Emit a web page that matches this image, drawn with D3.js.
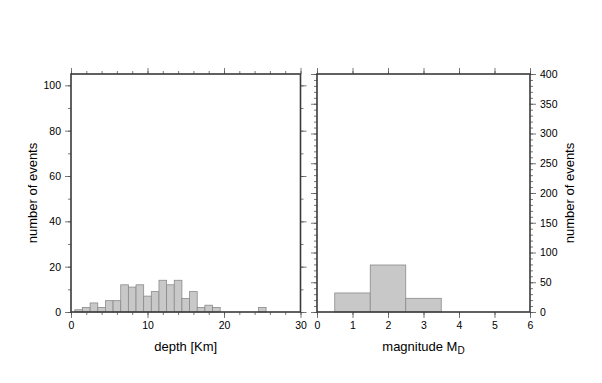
<!DOCTYPE html>
<html>
<head>
<meta charset="utf-8">
<script src="https://cdn.jsdelivr.net/npm/d3@7"></script>
<style>
  body { margin: 0; background: #fff; }
  svg text { font-family: "Liberation Sans", Arial, sans-serif; fill: #000; }
</style>
</head>
<body>
<div id="chart"></div>
<script>
// depth histogram, 1 km bins centred on whole km
var depthKm = d3.range(0, 30);
var depthCounts = [0, 1, 2, 4, 2, 5, 5, 12, 11, 12, 7, 9, 14, 12, 14, 6, 9, 2, 3, 2,
                   0, 0, 0, 0, 0, 2, 0, 0, 0, 0];
// magnitude histogram, bins centred on whole units
var magBins = [1, 2, 3];
var magCounts = [32, 79, 23];

var depthTicks = [0, 10, 20, 30];
var countTicksL = [0, 20, 40, 60, 80, 100];
var magTicks = [0, 1, 2, 3, 4, 5, 6];
var countTicksR = [0, 50, 100, 150, 200, 250, 300, 350, 400];

var W = 602, H = 383,
    yTop = 74, yBot = 312,
    left1 = 71, right1 = 300.5,
    left2 = 317, right2 = 530,
    frameColor = "#3a3a3a",
    barFill = "#c8c8c8", barStroke = "#8a8a8a";

var svg = d3.select("#chart").append("svg")
    .attr("width", W).attr("height", H);

function ticks(g, axis, major, minor, labels, len) {
  g.call(axis.tickValues(minor).tickSize(len / 2).tickFormat(""));
  g.select(".domain").remove();
  var gm = g.append("g");
  gm.call(axis.tickValues(major).tickSize(len).tickFormat(labels ? d3.format("d") : ""));
  gm.select(".domain").remove();
  g.selectAll("line").attr("stroke", "#555").attr("stroke-width", 0.8);
  g.selectAll("text").attr("font-size", 10.5).attr("fill", "#000");
}

// ---- left panel: depth
var x1 = d3.scaleLinear().domain([0, 30]).range([left1, right1]);
var y1 = d3.scaleLinear().domain([0, 105]).range([yBot, yTop]);

svg.append("g").selectAll("rect")
  .data(depthKm.filter(function (d, i) { return depthCounts[i] > 0; }))
  .enter().append("rect")
    .attr("x", function (d) { return x1(Math.max(0, d - 0.5)); })
    .attr("width", function (d) { return x1(d + 0.5) - x1(Math.max(0, d - 0.5)); })
    .attr("y", function (d) { return y1(depthCounts[d]); })
    .attr("height", function (d) { return yBot - y1(depthCounts[d]); })
    .attr("fill", barFill).attr("stroke", barStroke).attr("stroke-width", 0.8);

ticks(svg.append("g").attr("transform", "translate(0," + yBot + ")"),
  d3.axisBottom(x1).tickPadding(4), depthTicks, d3.range(0, 31, 2), true, 6);
ticks(svg.append("g").attr("transform", "translate(0," + yTop + ")"),
  d3.axisTop(x1), depthTicks, d3.range(0, 31, 2), false, 6);
ticks(svg.append("g").attr("transform", "translate(" + left1 + ",0)"),
  d3.axisLeft(y1).tickPadding(4), countTicksL, d3.range(0, 101, 10), true, 6);
ticks(svg.append("g").attr("transform", "translate(" + right1 + ",0)"),
  d3.axisRight(y1), countTicksL, d3.range(0, 101, 10), false, 6);

svg.append("rect")
  .attr("x", left1).attr("y", yTop)
  .attr("width", right1 - left1).attr("height", yBot - yTop)
  .attr("fill", "none").attr("stroke", frameColor).attr("stroke-width", 1.6);

svg.append("text")
  .attr("x", (left1 + right1) / 2).attr("y", 351)
  .attr("text-anchor", "middle").attr("font-size", 13)
  .text("depth [Km]");
svg.append("text")
  .attr("transform", "translate(37," + (yTop + yBot) / 2 + ") rotate(-90)")
  .attr("text-anchor", "middle").attr("font-size", 13)
  .text("number of events");

// ---- right panel: magnitude
var x2 = d3.scaleLinear().domain([0, 6]).range([left2, right2]);
var y2 = d3.scaleLinear().domain([0, 400]).range([yBot, yTop]);

svg.append("g").selectAll("rect")
  .data(magBins)
  .enter().append("rect")
    .attr("x", function (d) { return x2(d - 0.5); })
    .attr("width", function (d) { return x2(d + 0.5) - x2(d - 0.5); })
    .attr("y", function (d, i) { return y2(magCounts[i]); })
    .attr("height", function (d, i) { return yBot - y2(magCounts[i]); })
    .attr("fill", barFill).attr("stroke", barStroke).attr("stroke-width", 0.8);

ticks(svg.append("g").attr("transform", "translate(0," + yBot + ")"),
  d3.axisBottom(x2).tickPadding(4), magTicks, magTicks, true, 6);
ticks(svg.append("g").attr("transform", "translate(0," + yTop + ")"),
  d3.axisTop(x2), magTicks, magTicks, false, 6);
ticks(svg.append("g").attr("transform", "translate(" + left2 + ",0)"),
  d3.axisLeft(y2), countTicksR, d3.range(0, 401, 10), false, 6);
ticks(svg.append("g").attr("transform", "translate(" + right2 + ",0)"),
  d3.axisRight(y2).tickPadding(4), countTicksR, d3.range(0, 401, 10), true, 6);

svg.append("rect")
  .attr("x", left2).attr("y", yTop)
  .attr("width", right2 - left2).attr("height", yBot - yTop)
  .attr("fill", "none").attr("stroke", frameColor).attr("stroke-width", 1.6);

var mt = svg.append("text")
  .attr("x", (left2 + right2) / 2).attr("y", 351)
  .attr("text-anchor", "middle").attr("font-size", 13);
mt.append("tspan").text("magnitude M");
mt.append("tspan").attr("dy", 3).attr("font-size", 10).text("D");

svg.append("text")
  .attr("transform", "translate(574," + (yTop + yBot) / 2 + ") rotate(-90)")
  .attr("text-anchor", "middle").attr("font-size", 13)
  .text("number of events");
</script>
</body>
</html>
